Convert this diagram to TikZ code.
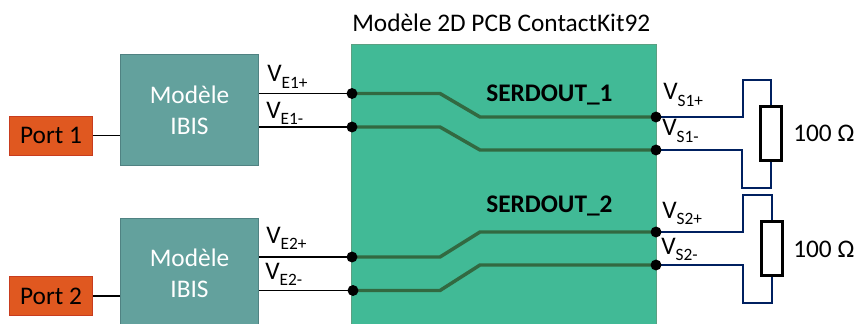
\documentclass[tikz,border=0pt]{standalone}
\usepackage{xcolor}
\usepackage{fontspec}
\setmainfont{Carlito}
\usetikzlibrary{positioning,calc}
\definecolor{portred}{RGB}{224,88,32}
\definecolor{portedge}{RGB}{200,60,30}
\definecolor{ibisteal}{RGB}{99,161,157}
\definecolor{ibisedge}{RGB}{80,130,130}
\definecolor{pcbgreen}{RGB}{65,186,150}
\definecolor{pcbedge}{RGB}{90,160,130}
\definecolor{tracec}{RGB}{50,105,65}
\definecolor{loadnavy}{RGB}{0,32,96}
\newcommand{\vsub}[1]{V\raisebox{-0.55ex}{\fontsize{13}{14}\selectfont #1}}
\tikzset{
  portbox/.style={draw=portedge, fill=portred, minimum width=62.5pt, minimum height=29pt,
                  inner sep=0pt, font=\fontsize{19}{21}\selectfont},
  ibisbox/.style={draw=ibisedge, thick, fill=ibisteal, minimum width=104pt, minimum height=83pt,
                  inner sep=0pt, text=white, align=center, font=\fontsize{19}{23.5}\selectfont},
  pcbbox/.style={draw=pcbedge, fill=pcbgreen, minimum width=229pt, minimum height=215pt, inner sep=0pt},
  resbox/.style={draw, line width=2.2pt, fill=none, minimum width=16pt, minimum height=41pt, inner sep=0pt},
  dot/.style={circle, fill=black, minimum size=8.2pt, inner sep=0pt},
  wire/.style={line width=1.4pt, black},
  trace/.style={line width=2.6pt, tracec},
  load/.style={line width=1.1pt, loadnavy},
  lbl/.style={anchor=base west, inner sep=0pt, font=\fontsize{19}{21}\selectfont},
  netlbl/.style={lbl, font=\fontsize{19}{21}\selectfont\bfseries}
}
\begin{document}
\begin{tikzpicture}[x=0.75pt,y=-0.75pt]
\useasboundingbox (0,0) rectangle (855,324);
\clip (0,0) rectangle (855,324);
% boxes
\node[pcbbox] (pcb) at (503.5,187.5) {};
\node[ibisbox] (ibis1) at (189.5,110) {Modèle\\IBIS};
\node[ibisbox] (ibis2) at (189.5,273.5) {Modèle\\IBIS};
\node[portbox] (port1) at (51,135.5) {Port 1};
\node[portbox] (port2) at (51,296) {Port 2};
\node[resbox] (res1) at (771,133.5) {};
\node[resbox] (res2) at (772,248.5) {};
% pads
\coordinate (e1p) at (352,93.5);
\coordinate (e1m) at (352,127);
\coordinate (e2p) at (352,257);
\coordinate (e2m) at (353,290.5);
\coordinate (s1p) at (656,117);
\coordinate (s1m) at (656,150);
\coordinate (s2p) at (656,232);
\coordinate (s2m) at (656,265);
% traces
\draw[trace] (e1p) -- ++(88,0) -- ++(40,23.5) -- (s1p);
\draw[trace] (e1m) -- ++(88,0) -- ++(40,23) -- (s1m);
\draw[trace] (e2p) -- ++(88,0) -- ++(40,-25) -- (s2p);
\draw[trace] (e2m) -- ++(87,0) -- ++(40,-25.5) -- (s2m);
% wires
\draw[wire] (port1.east) -- (port1.east -| ibis1.west);
\draw[wire] (port2.east) -- (port2.east -| ibis2.west);
\draw[wire] (e1p -| ibis1.east) -- (e1p);
\draw[wire] (e1m -| ibis1.east) -- (e1m);
\draw[wire] (e2p -| ibis2.east) -- (e2p);
\draw[wire] (e2m -| ibis2.east) -- (e2m);
% loads
\draw[load] (s1p) -- (743,117) -- (743,80) -- (res1.north |- 0,80) -- (res1.north);
\draw[load] (s1m) -- (742,150) -- (742,188) -- (res1.south |- 0,188) -- (res1.south);
\draw[load] (s2p) -- (743,232) -- (743,195) -- (res2.north |- 0,195) -- (res2.north);
\draw[load] (s2m) -- (743,265) -- (743,303) -- (res2.south |- 0,303) -- (res2.south);
% dots
\node[dot] at (e1p) {};
\node[dot] at (e1m) {};
\node[dot] at (e2p) {};
\node[dot] at (e2m) {};
\node[dot] at (s1p) {};
\node[dot] at (s1m) {};
\node[dot] at (s2p) {};
\node[dot] at (s2m) {};
% labels
\node[lbl] (titre) at (352,32) {Modèle 2D PCB ContactKit92};
\node[netlbl] (net1) at (486,102) {SERDOUT\_1};
\node[netlbl] (net2) at (486,212) {SERDOUT\_2};
\node[lbl] (ve1p) at (267,82) {\vsub{E1+}};
\node[lbl] (ve1m) at (266,118) {\vsub{E1-}};
\node[lbl] (ve2p) at (266,243) {\vsub{E2+}};
\node[lbl] (ve2m) at (265,279) {\vsub{E2-}};
\node[lbl] (vs1p) at (663,100) {\vsub{S1+}};
\node[lbl] (vs1m) at (662,136) {\vsub{S1-}};
\node[lbl] (vs2p) at (662,218) {\vsub{S2+}};
\node[lbl] (vs2m) at (661,254) {\vsub{S2-}};
\node[lbl] (val1) at (793,142) {100 Ω};
\node[lbl] (val2) at (793,257) {100 Ω};
\end{tikzpicture}
\end{document}
